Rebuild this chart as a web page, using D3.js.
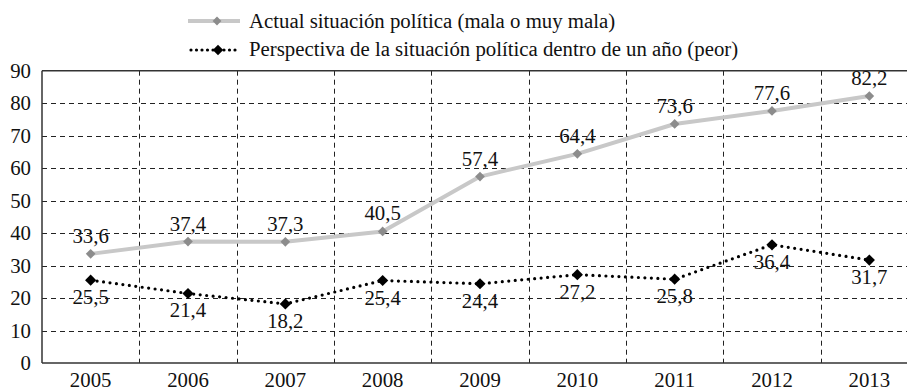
<!DOCTYPE html>
<html>
<head>
<meta charset="utf-8">
<script src="https://cdn.jsdelivr.net/npm/d3@7"></script>
<style>
  html, body { margin: 0; padding: 0; background: #fff; }
  svg { display: block; }
</style>
</head>
<body>
<svg id="chart" width="907" height="391"></svg>
<script>
// Years on the horizontal axis
const years = ["2005", "2006", "2007", "2008", "2009", "2010", "2011", "2012", "2013"];
// Current political situation rated bad or very bad (%)
const actual = [33.6, 37.4, 37.3, 40.5, 57.4, 64.4, 73.6, 77.6, 82.2];
// Expected political situation one year ahead: worse (%)
const perspectiva = [25.5, 21.4, 18.2, 25.4, 24.4, 27.2, 25.8, 36.4, 31.7];
// Vertical axis ticks
const yTicks = [0, 10, 20, 30, 40, 50, 60, 70, 80, 90];
// Legend entries
const seriesNames = [
  "Actual situación política (mala o muy mala)",
  "Perspectiva de la situación política dentro de un año (peor)"
];

const FONT = "'Liberation Serif'";
const fmt = v => String(v.toFixed(1)).replace(".", ",");

const svg = d3.select("#chart");
const plotLeft = 42, plotRight = 918, plotTop = 70.7, plotBottom = 363;

const x = d3.scaleBand().domain(years).range([plotLeft, plotRight]).padding(0);
const y = d3.scaleLinear().domain([0, 90]).range([plotBottom, plotTop]);
const cx = d => x(d) + x.bandwidth() / 2;

// Shared text styling
const txt = sel => sel.style("font-family", FONT).style("font-size", "20.8px").attr("fill", "#111");

// Horizontal dashed grid
svg.append("g")
  .selectAll("line")
  .data(yTicks.filter(t => t > 0 && t < 90))
  .join("line")
  .attr("x1", plotLeft).attr("x2", plotRight)
  .attr("y1", d => Math.round(y(d)) + 0.5).attr("y2", d => Math.round(y(d)) + 0.5)
  .attr("stroke", "#222").attr("stroke-width", 1)
  .attr("stroke-dasharray", "5,4");

// Vertical dashed grid at category boundaries
svg.append("g")
  .selectAll("line")
  .data(years.slice(1))
  .join("line")
  .attr("x1", d => Math.round(x(d)) + 0.5).attr("x2", d => Math.round(x(d)) + 0.5)
  .attr("y1", plotTop).attr("y2", plotBottom)
  .attr("stroke", "#222").attr("stroke-width", 1)
  .attr("stroke-dasharray", "5,4");

// Frame: top, left, bottom
svg.append("line").attr("x1", plotLeft).attr("x2", plotRight).attr("y1", plotTop).attr("y2", plotTop)
  .attr("stroke", "#333").attr("stroke-width", 1.5);
svg.append("line").attr("x1", plotLeft).attr("x2", plotLeft).attr("y1", plotTop).attr("y2", plotBottom)
  .attr("stroke", "#333").attr("stroke-width", 1.5);
svg.append("line").attr("x1", plotLeft).attr("x2", plotRight).attr("y1", plotBottom).attr("y2", plotBottom)
  .attr("stroke", "#333").attr("stroke-width", 1.5);

// Y axis labels
svg.append("g")
  .selectAll("text")
  .data(yTicks)
  .join("text")
  .attr("x", 31).attr("y", d => y(d) + 7)
  .attr("text-anchor", "end")
  .call(txt)
  .text(d => d);

// X axis labels
svg.append("g")
  .selectAll("text")
  .data(years)
  .join("text")
  .attr("x", d => cx(d)).attr("y", 387)
  .attr("text-anchor", "middle")
  .call(txt)
  .text(d => d);

const line = d3.line().x(d => cx(d.year)).y(d => y(d.v));
const s1 = years.map((yr, i) => ({ year: yr, v: actual[i] }));
const s2 = years.map((yr, i) => ({ year: yr, v: perspectiva[i] }));

const diamond = d3.symbol().type(d3.symbolDiamond2);

// Series 1: thick grey line
svg.append("path").datum(s1).attr("d", line)
  .attr("fill", "none").attr("stroke", "#c8c8c8").attr("stroke-width", 4)
  .attr("stroke-linejoin", "round");
svg.append("g").selectAll("path").data(s1).join("path")
  .attr("d", diamond.size(60)())
  .attr("transform", d => `translate(${cx(d.year)},${y(d.v)})`)
  .attr("fill", "#8c8c8c");

// Series 2: dotted black line
svg.append("path").datum(s2).attr("d", line)
  .attr("fill", "none").attr("stroke", "#000").attr("stroke-width", 3.2)
  .attr("stroke-linecap", "round").attr("stroke-dasharray", "0,6.5");
svg.append("g").selectAll("path").data(s2).join("path")
  .attr("d", diamond.size(80)())
  .attr("transform", d => `translate(${cx(d.year)},${y(d.v)})`)
  .attr("fill", "#000");

// Value labels
svg.append("g").selectAll("text").data(s1).join("text")
  .attr("x", d => cx(d.year)).attr("y", d => y(d.v) - 11)
  .attr("text-anchor", "middle")
  .call(txt)
  .text(d => fmt(d.v));
svg.append("g").selectAll("text").data(s2).join("text")
  .attr("x", d => cx(d.year)).attr("y", d => y(d.v) + 24)
  .attr("text-anchor", "middle")
  .call(txt)
  .text(d => fmt(d.v));

// Legend
const lg = svg.append("g");
lg.append("line").attr("x1", 188).attr("x2", 240).attr("y1", 21).attr("y2", 21)
  .attr("stroke", "#c8c8c8").attr("stroke-width", 4);
lg.append("path").attr("d", diamond.size(50)()).attr("transform", "translate(217,21)")
  .attr("fill", "#8c8c8c");
lg.append("line").attr("x1", 191).attr("x2", 240).attr("y1", 50).attr("y2", 50)
  .attr("stroke", "#000").attr("stroke-width", 3.2)
  .attr("stroke-linecap", "round").attr("stroke-dasharray", "0,5.5");
lg.append("path").attr("d", diamond.size(70)()).attr("transform", "translate(218,50)")
  .attr("fill", "#000");
lg.selectAll("text").data(seriesNames).join("text")
  .attr("x", 249).attr("y", (d, i) => i === 0 ? 27.7 : 55.5)
  .call(txt)
  .text(d => d);
</script>
</body>
</html>
